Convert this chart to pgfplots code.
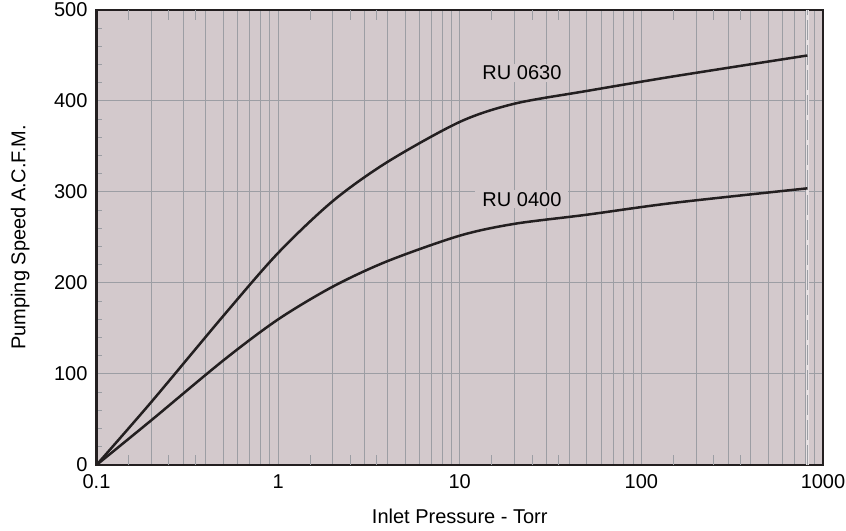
\documentclass[border=0pt]{standalone}
\usepackage{fontspec}
\setmainfont{Liberation Sans}
\usepackage{pgfplots}
\pgfplotsset{compat=1.18}
\definecolor{bgcol}{HTML}{D3C9CC}
\definecolor{gridcol}{HTML}{9C9EA4}
\definecolor{inkcol}{HTML}{231F20}
\begin{document}
\begin{tikzpicture}[font=\fontsize{10bp}{12bp}\selectfont]
\begin{axis}[
 scale only axis, width=363.25bp, height=227.5bp,
 xmode=log, xmin=0.1, xmax=1000, ymin=0, ymax=500,
 axis background/.style={fill=bgcol},
 axis line style={inkcol, line width=1.4bp},
 xtick={0.1,1,10,100,1000}, xticklabels={0.1,1,10,100,1000},
 minor xtick={0.2,0.3,0.4,0.5,0.6,0.7,0.8,0.9,2,3,4,5,6,7,8,9,20,30,40,50,60,70,80,90,200,300,400,500,600,700,800,900},
 ytick={0,100,200,300,400,500}, yticklabels={0,100,200,300,400,500},
 minor ytick={20,40,60,80,120,140,160,180,220,240,260,280,320,340,360,380,420,440,460,480},
 xmajorgrids, xminorgrids, ymajorgrids, yminorgrids=false,
 grid style={gridcol, line width=0.5bp},
 tick align=inside, ytick pos=left, xtick pos=both,
 major tick length=0pt, minor tick length=3bp,
 tick style={gridcol, line width=0.5bp},
 extra x ticks={0.15,0.25,0.35,1.5,2.5,3.5,15,25,35,150,250,350},
 extra x tick style={grid=none, major tick length=5bp, xticklabel={}},
 xticklabel style={yshift=-1.5bp},
 yticklabel style={xshift=-1bp},
 xlabel={Inlet Pressure - Torr}, ylabel={Pumping Speed A.C.F.M.},
 xlabel style={at={(axis description cs:0.5,-0.114)}, anchor=center},
 ylabel style={at={(axis description cs:-0.105,0.5)}, anchor=center},
 clip=false,
]
% 760 Torr marker
\addplot[bgcol!55!white, line width=1.6bp] coordinates {(820,0) (820,500)};
\addplot[gridcol, dash pattern=on 10bp off 2.5bp, line width=0.7bp] coordinates {(820,0) (820,500)};
% RU 0630
\addplot[inkcol, line width=1.25bp, smooth] coordinates {
 (0.1,0) (0.2,69) (0.5,164) (1,233) (2,290) (4,333)
 (10,377) (20,397) (50,411) (150,427) (820,450)};
% RU 0400
\addplot[inkcol, line width=1.25bp, smooth] coordinates {
 (0.1,0) (0.2,49) (0.5,115) (1,160) (2,196) (4,224)
 (10,252) (20,265) (50,275) (150,288) (820,304)};
\node[fill=bgcol, inner xsep=3.5bp, inner ysep=1bp] at (axis cs:22,431) {RU 0630};
\node[fill=bgcol, inner xsep=3.5bp, inner ysep=1bp] at (axis cs:22,292) {RU 0400};
\end{axis}
\pgfresetboundingbox
\useasboundingbox ([shift={(-48.25bp,-33bp)}]current axis.south west) rectangle ([shift={(11.5bp,5bp)}]current axis.north east);
\end{tikzpicture}
\end{document}
